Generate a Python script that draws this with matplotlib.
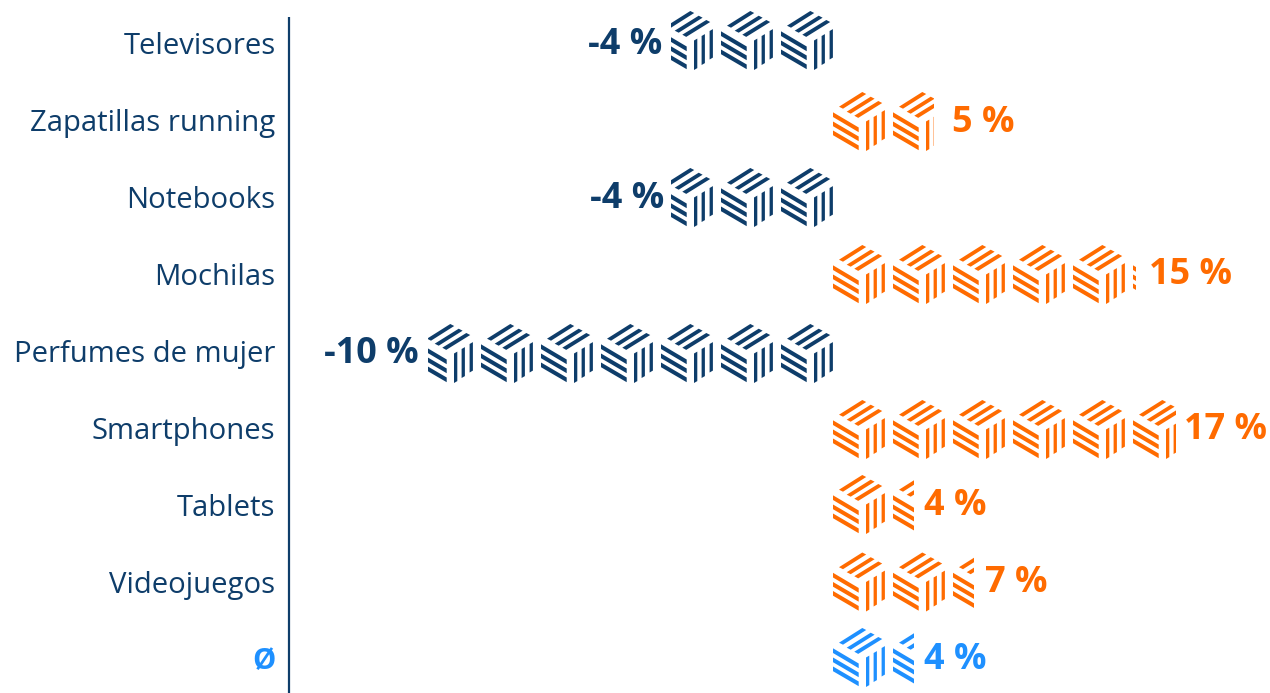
import matplotlib
matplotlib.use("Agg")
import numpy as np
import matplotlib.pyplot as plt
from matplotlib.path import Path
from matplotlib.patches import PathPatch, Rectangle
from matplotlib.transforms import Affine2D

categories = ["Televisores", "Zapatillas running", "Notebooks", "Mochilas",
              "Perfumes de mujer", "Smartphones", "Tablets", "Videojuegos", "Ø"]
changes = [-4, 5, -4, 15, -10, 17, 4, 7, 4]
value_labels = ["-4 %", "5 %", "-4 %", "15 %", "-10 %", "17 %", "4 %", "7 %", "4 %"]

NAVY = "#0E3D6A"
ORANGE = "#FF6B00"
BLUE = "#1E90FF"

POS_UNIT = 20.2   # pixels per percentage point above zero
NEG_UNIT = 40.5   # pixels per percentage point below zero
ZERO_PX = 833
PITCH = 60
ICON_W = 52

# Per-row layout, in pixels
label_gaps = [9, 18.5, 7, 13, 9, 8, 10, 11, 10]
icon_tops = [11, 92, 168, 245, 324, 400, 475, 552.5, 628]
value_baselines = [54.5, 131.5, 208, 284.5, 363, 439, 515, 591.5, 669]
name_baselines = [53.5, 130.5, 207.5, 285, 362, 438.5, 515.5, 592.5, 669.5]


def forward(v):
    v = np.asarray(v, dtype=float)
    return np.where(v >= 0, v * POS_UNIT, v * NEG_UNIT)


def inverse(p):
    p = np.asarray(p, dtype=float)
    return np.where(p >= 0, p / POS_UNIT, p / NEG_UNIT)


# Isometric crate glyph: striped top, left and right faces (pixel units, y down)
crate_faces = [
    [(6, 14.7), (29.3, 0), (33.2, 2), (10, 16.7)],
    [(13.7, 19.7), (37.7, 4.7), (41.6, 6.7), (17.7, 21.7)],
    [(21.3, 23.7), (45.3, 9), (49.2, 11), (25.2, 25.9)],
    [(0, 20.3), (25.7, 35.5), (25.7, 40.2), (0, 25)],
    [(0, 29.5), (25.7, 44.5), (25.7, 49.2), (0, 34.2)],
    [(0, 38.5), (25.7, 53.5), (25.7, 58.2), (0, 43.2)],
    [(33, 29.5), (36.3, 27.6), (36.3, 57.1), (33, 59)],
    [(40.6, 25), (43.9, 23.1), (43.9, 52.1), (40.6, 54)],
    [(48.6, 20), (51.9, 18.1), (51.9, 46.6), (48.6, 48.5)],
]
verts, codes = [], []
for face in crate_faces:
    verts += face + [face[0]]
    codes += [Path.MOVETO] + [Path.LINETO] * 3 + [Path.CLOSEPOLY]
crate = Path(verts, codes)

fig = plt.figure(figsize=(12.7, 6.93), dpi=100)
ax = fig.add_axes([0, 0, 1, 1])
ax.set_xscale("function", functions=(forward, inverse))
ax.set_xlim(-ZERO_PX / NEG_UNIT, (1270 - ZERO_PX) / POS_UNIT)
ax.set_ylim(693, 0)
ax.axis("off")
fig.canvas.draw()

OPEN = ["Open Sans", "DejaVu Sans"]

for i, (name, val, lab) in enumerate(zip(categories, changes, value_labels)):
    color = BLUE if name == "Ø" else (NAVY if val < 0 else ORANGE)
    top = icon_tops[i]
    clip = Rectangle((min(val, 0), top - 5), abs(val), 70, transform=ax.transData)

    span = abs(forward(val))
    count = int(np.ceil(span / PITCH)) + 1
    x0, y0 = ax.transData.transform((0, top))
    for k in range(count):
        left = x0 + k * PITCH if val >= 0 else x0 - ICON_W - k * PITCH
        tr = Affine2D().scale(1, -1).translate(left, y0)
        patch = PathPatch(crate, facecolor=color, edgecolor="none", transform=tr)
        ax.add_patch(patch)
        patch.set_clip_path(clip)

    gap_pts = label_gaps[i] * 72 / fig.dpi
    ax.annotate(lab, (val, value_baselines[i]),
                xytext=(gap_pts if val >= 0 else -gap_pts, 0),
                textcoords="offset points", ha="left" if val >= 0 else "right",
                va="baseline", fontsize=25.9, fontweight="bold", color=color,
                family=OPEN)

    ax.annotate(name, (0, name_baselines[i]), xycoords=("axes fraction", "data"),
                xytext=(275.5 * 72 / fig.dpi, 0), textcoords="offset points",
                ha="right", va="baseline", fontsize=21.1,
                fontweight="bold" if name == "Ø" else "normal",
                color=BLUE if name == "Ø" else NAVY, family=OPEN)

# Category axis rule
ax.plot([288.8 / 1270, 288.8 / 1270], [1 - 17 / 693, 0], transform=ax.transAxes,
        color=NAVY, lw=1.6, solid_capstyle="butt", clip_on=False)

fig.savefig("out.png", dpi=100)
